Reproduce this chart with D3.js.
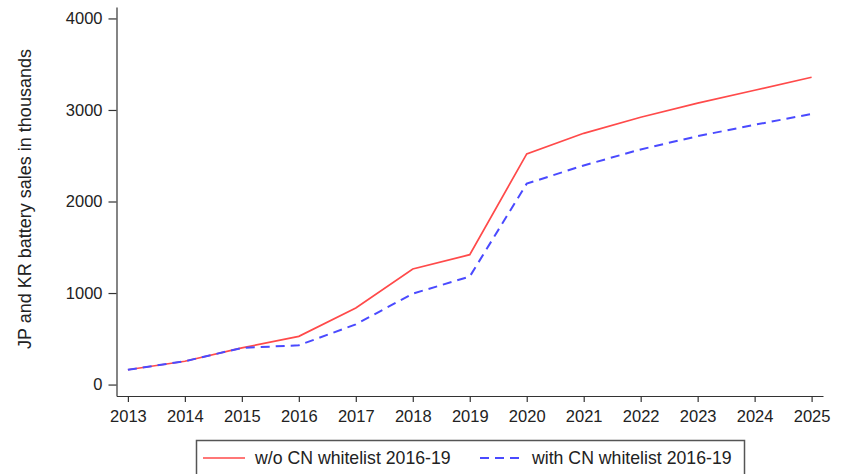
<!DOCTYPE html>
<html>
<head>
<meta charset="utf-8">
<script src="https://cdn.jsdelivr.net/npm/d3@7"></script>
<style>
  body { margin: 0; background: #fff; }
  svg text { font-family: "Liberation Sans", Arial, sans-serif; fill: #222; }
</style>
</head>
<body>
<div class="canvas"></div>
<script>
// values
const years = [2013, 2014, 2015, 2016, 2017, 2018, 2019, 2020, 2021, 2022, 2023, 2024, 2025];
const withoutWhitelist = [162, 255, 400, 527, 836, 1262, 1419, 2520, 2745, 2920, 3075, 3215, 3357];
const withWhitelist = [162, 255, 400, 429, 658, 993, 1180, 2195, 2394, 2569, 2714, 2838, 2956];
const yTicks = [0, 1000, 2000, 3000, 4000];
const seriesNames = ['w/o CN whitelist 2016-19', 'with CN whitelist 2016-19'];

const width = 850, height = 474;

const svg = d3.select('.canvas')
    .append('svg')
    .attr('width', width)
    .attr('height', height);

// plot region (axes run a little past the first/last values, Stata style)
const x = d3.scaleLinear()
    .domain([2012.8, 2025.2])
    .range([116.5, 823]);

const y = d3.scaleLinear()
    .domain([-125, 4125])
    .range([396, 7]);

// axes
const xAxis = d3.axisBottom(x)
    .tickValues(years)
    .tickFormat(d3.format('d'))
    .tickSize(6)
    .tickSizeOuter(0)
    .tickPadding(8);

const yAxis = d3.axisLeft(y)
    .tickValues(yTicks)
    .tickFormat(d3.format('d'))
    .tickSize(8)
    .tickSizeOuter(0)
    .tickPadding(6);

const xAxisGroup = svg.append('g')
    .attr('transform', `translate(0, ${y.range()[0]})`)
    .call(xAxis);
xAxisGroup.selectAll('text').style('font-size', '16.5px');

const yAxisGroup = svg.append('g')
    .attr('transform', `translate(${x.range()[0]}, 0)`)
    .call(yAxis);
yAxisGroup.selectAll('text').style('font-size', '16.5px');

svg.selectAll('.domain, .tick line')
    .attr('stroke', '#333')
    .attr('stroke-width', 1.2);

// y title
svg.append('text')
    .attr('transform', 'translate(31, 199) rotate(-90)')
    .attr('text-anchor', 'middle')
    .style('font-size', '18px')
    .text('JP and KR battery sales in thousands');

// lines
const line = d3.line()
    .x((d, i) => x(years[i]))
    .y(d => y(d));

svg.append('path')
    .datum(withoutWhitelist)
    .attr('d', line)
    .attr('fill', 'none')
    .attr('stroke', '#ff4a4a')
    .attr('stroke-width', 1.7);

svg.append('path')
    .datum(withWhitelist)
    .attr('d', line)
    .attr('fill', 'none')
    .attr('stroke', '#4a4aff')
    .attr('stroke-width', 2)
    .attr('stroke-dasharray', '9,6');

// legend
const legend = svg.append('g');
legend.append('rect')
    .attr('x', 196.5)
    .attr('y', 440.5)
    .attr('width', 548)
    .attr('height', 50)
    .attr('fill', '#fff')
    .attr('stroke', '#555')
    .attr('stroke-width', 1.5);

legend.append('line')
    .attr('x1', 203).attr('x2', 245)
    .attr('y1', 458).attr('y2', 458)
    .attr('stroke', '#ff4a4a')
    .attr('stroke-width', 1.7);
legend.append('text')
    .attr('x', 255).attr('y', 464)
    .style('font-size', '17.7px')
    .text(seriesNames[0]);

legend.append('line')
    .attr('x1', 480).attr('x2', 524)
    .attr('y1', 458).attr('y2', 458)
    .attr('stroke', '#4a4aff')
    .attr('stroke-width', 2)
    .attr('stroke-dasharray', '9,6');
legend.append('text')
    .attr('x', 532).attr('y', 464)
    .style('font-size', '17.7px')
    .text(seriesNames[1]);
</script>
</body>
</html>
